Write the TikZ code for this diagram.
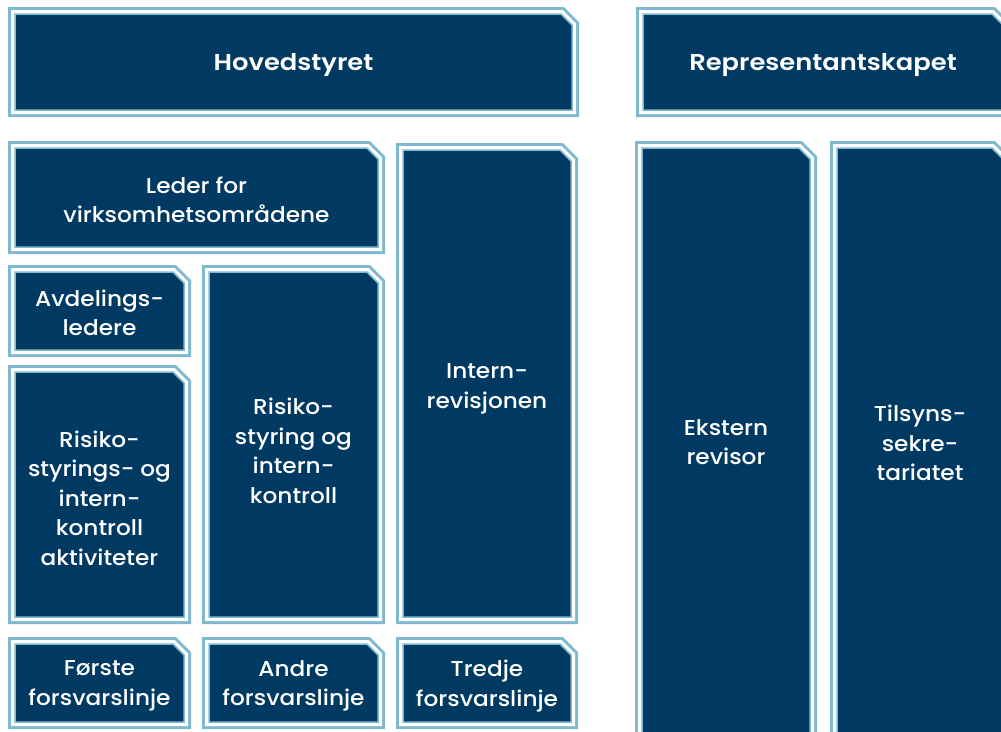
\documentclass[tikz,border=0pt]{standalone}
\usepackage{fontspec}
\setmainfont{Poppins}
\newfontfamily\bodyfont{Poppins Medium}[FakeStretch=1.08]
\newfontfamily\headfont{Poppins SemiBold}[FakeStretch=1.12]
\usepackage{tikz}
\usetikzlibrary{calc}

\definecolor{navy}{HTML}{003A63}
\definecolor{skyline}{HTML}{80B8D0}

\tikzset{
  panelbox/.style={fill=navy, draw=skyline, line width=1.5pt, line join=miter,
    preaction={draw=skyline, line width=14pt, line join=miter},
    preaction={draw=white, line width=8pt, line join=miter}},
  paneltext/.style={text=white, align=center, inner sep=0pt,
    font=\bodyfont\fontsize{21.5}{29.5}\selectfont},
  headtext/.style={paneltext, font=\headfont\fontsize{23}{29}\selectfont}
}
% #1 x1, #2 y1, #3 x2, #4 y2 (inner edge, chamfer top right)
\newcommand*\panel[4]{
  \path[panelbox] (#1,#2) -- ({#3-11},#2) -- (#3,{#2+11}) -- (#3,#4) -- (#1,#4) -- cycle;}

\begin{document}
\begin{tikzpicture}[x=1pt,y=-1pt]
\useasboundingbox (0,0) rectangle (1001,731);
\clip (0,0) rectangle (1001,731);
%board
\panel{15}{14}{572}{110}
\node [headtext] (board) at (293.5,65) {Hovedstyret};
\panel{643}{14}{1003}{110}
\node [headtext] (council) at (823,65) {Representantskapet};
%management
\panel{15}{148}{378}{247}
\node [paneltext] (leader) at (196.5,200) {Leder for\\virksomhetsområdene};
\panel{15}{272}{184}{350}
\node [paneltext] (heads) at (99.5,313) {Avdelings-\\ledere};
\panel{15}{372}{184}{617}
\node [paneltext] (activities) at (99.5,498) {Risiko-\\styrings- og\\intern-\\kontroll\\aktiviteter};
\panel{209}{272}{378}{617}
\node [paneltext] (riskctrl) at (293.5,451) {Risiko-\\styring og\\intern-\\kontroll};
\panel{403}{150}{571}{617}
\node [paneltext] (audit) at (487,389) {Intern-\\revisjonen};
%lines of defence
\panel{15}{644}{184}{722}
\node [paneltext] (first) at (99.5,686) {Første\\forsvarslinje};
\panel{209}{644}{378}{722}
\node [paneltext] (second) at (293.5,686) {Andre\\forsvarslinje};
\panel{403}{644}{571}{722}
\node [paneltext] (third) at (487,686) {Tredje\\forsvarslinje};
%external
\panel{642}{148}{810}{745}
\node [paneltext] (extaudit) at (726,442) {Ekstern\\revisor};
\panel{837}{148}{1003}{745}
\node [paneltext] (secretariat) at (920,443) {Tilsyns-\\sekre-\\tariatet};
\end{tikzpicture}
\end{document}
